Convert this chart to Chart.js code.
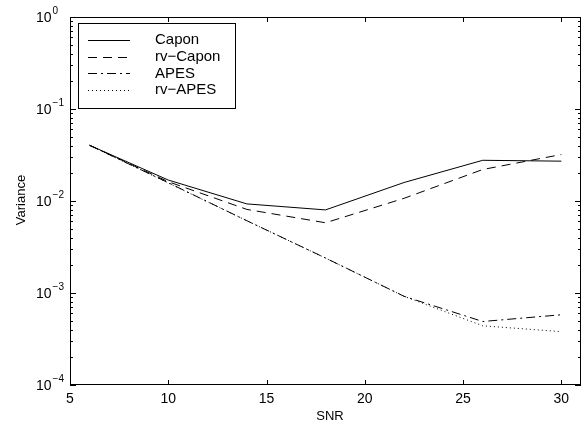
<!DOCTYPE html>
<html>
<head>
<meta charset="utf-8">
<script src="https://cdn.jsdelivr.net/npm/chart.js@4.4.1/dist/chart.umd.min.js"></script>
<style>
html, body { margin: 0; padding: 0; background: #fff; }
#wrap { width: 588px; height: 426px; }
</style>
</head>
<body>
<div id="wrap"><canvas id="varChart" width="588" height="426"></canvas></div>
<script>
// data
const snr = [6, 10, 14, 18, 22, 26, 30];
const capon = [0.0403, 0.0169, 0.0093, 0.0080, 0.0159, 0.0277, 0.0271];
const rvCapon = [0.0403, 0.0162, 0.0081, 0.0058, 0.0107, 0.0220, 0.0320];
const apes = [0.0403, 0.0158, 0.0061, 0.0024, 0.00092, 0.00049, 0.00058];
const rvApes = [0.0403, 0.0157, 0.0061, 0.0024, 0.00092, 0.00044, 0.00038];
const seriesNames = ['Capon', 'rv\u2212Capon', 'APES', 'rv\u2212APES'];
const xTicks = [5, 10, 15, 20, 25, 30];
const yExponents = [0, -1, -2, -3, -4];

const FONT = '"Liberation Sans", Arial, Helvetica, sans-serif';

const toPoints = (ys) => snr.map((x, i) => ({ x: x, y: ys[i] }));

// frame, inward ticks, labels and boxed legend (MATLAB look)
const axisDeco = {
    id: 'axisDeco',
    afterDatasetsDraw(chart) {
        const c = chart.ctx;
        const a = chart.chartArea;
        const xs = chart.scales.x;
        const ys = chart.scales.y;
        c.save();
        c.strokeStyle = '#000';
        c.lineWidth = 1;
        c.setLineDash([]);

        // box
        c.strokeRect(a.left + 0.5, a.top + 0.5, a.right - a.left - 1, a.bottom - a.top - 1);

        // ticks
        c.beginPath();
        xTicks.forEach(v => {
            const px = Math.round(xs.getPixelForValue(v)) + 0.5;
            c.moveTo(px, a.bottom); c.lineTo(px, a.bottom - 5);
            c.moveTo(px, a.top); c.lineTo(px, a.top + 5);
        });
        yExponents.forEach(e => {
            for (let k = 1; k <= 9; k++) {
                const v = k * Math.pow(10, e);
                if (v > ys.max * 1.0001) break;
                const py = Math.round(ys.getPixelForValue(v)) + 0.5;
                const len = k === 1 ? 6 : 3;
                c.moveTo(a.left, py); c.lineTo(a.left + len, py);
                c.moveTo(a.right, py); c.lineTo(a.right - len, py);
            }
        });
        c.stroke();

        // tick labels
        c.fillStyle = '#000';
        c.textBaseline = 'middle';
        c.textAlign = 'center';
        c.font = '14px ' + FONT;
        xTicks.forEach(v => {
            c.fillText(String(v), xs.getPixelForValue(v), a.bottom + 14);
        });
        c.textAlign = 'left';
        yExponents.forEach(e => {
            const py = ys.getPixelForValue(Math.pow(10, e));
            c.font = '14px ' + FONT;
            c.fillText('10', 36, py + 1);
            const w = c.measureText('10').width;
            c.font = '10px ' + FONT;
            c.fillText(e === 0 ? '0' : '\u2212' + Math.abs(e), 36 + w + 1, py - 6);
        });

        // axis titles
        c.font = '13px ' + FONT;
        c.textAlign = 'center';
        c.fillText('SNR', 330, 416);
        c.save();
        c.translate(21, 200);
        c.rotate(-Math.PI / 2);
        c.fillText('Variance', 0, 0);
        c.restore();

        // legend
        c.strokeRect(78.5, 23.5, 157, 85);
        c.font = '15px ' + FONT;
        c.textAlign = 'left';
        chart.data.datasets.forEach((ds, i) => {
            const ry = 40 + i * 16.7;
            c.beginPath();
            c.setLineDash(ds.borderDash || []);
            c.moveTo(88, Math.round(ry) + 0.5);
            c.lineTo(130, Math.round(ry) + 0.5);
            c.stroke();
            c.setLineDash([]);
            c.fillText(ds.label, 155, ry);
        });
        c.restore();
    }
};

const chart = new Chart(document.getElementById('varChart').getContext('2d'), {
    type: 'line',
    data: {
        datasets: [
            { label: seriesNames[0], data: toPoints(capon), borderDash: [] },
            { label: seriesNames[1], data: toPoints(rvCapon), borderDash: [9, 6] },
            { label: seriesNames[2], data: toPoints(apes), borderDash: [9, 4, 2, 4] },
            { label: seriesNames[3], data: toPoints(rvApes), borderDash: [1, 3] }
        ].map(ds => Object.assign(ds, {
            borderColor: '#000',
            borderWidth: 1,
            pointRadius: 0,
            fill: false,
            tension: 0
        }))
    },
    options: {
        responsive: false,
        animation: false,
        devicePixelRatio: 1,
        layout: { padding: { top: 17, right: 7, left: 0, bottom: 0 } },
        plugins: { legend: { display: false }, tooltip: { enabled: false } },
        scales: {
            x: {
                type: 'linear', min: 5, max: 31,
                ticks: { display: false },
                grid: { display: false },
                border: { display: false },
                afterFit(s) { s.height = 41; }
            },
            y: {
                type: 'logarithmic', min: 1e-4, max: 1,
                ticks: { display: false },
                grid: { display: false },
                border: { display: false },
                afterFit(s) { s.width = 70; }
            }
        }
    },
    plugins: [axisDeco]
});
</script>
</body>
</html>
